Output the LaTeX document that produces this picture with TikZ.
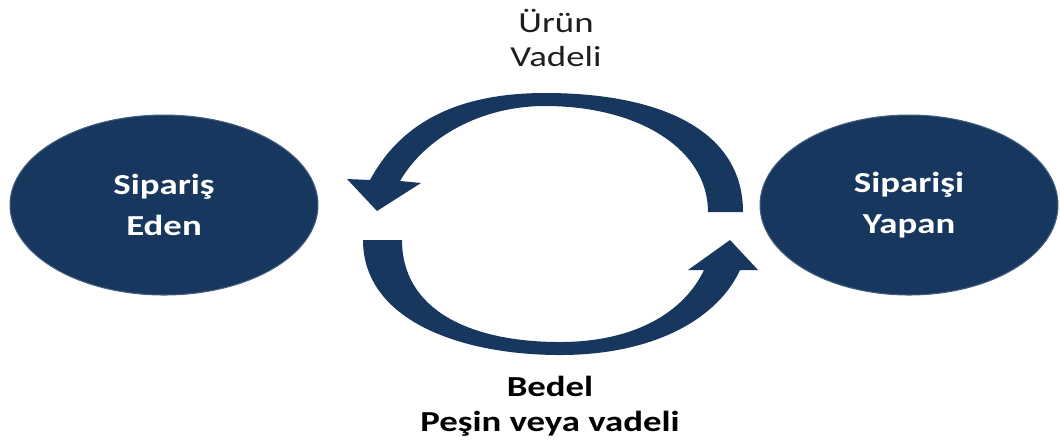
\documentclass[tikz,border=0pt]{standalone}
\usepackage{fontspec}
\setmainfont[FakeStretch=1.27]{Carlito}
\usepackage{xcolor}
\usetikzlibrary{positioning, shapes.geometric}

\definecolor{navy}{HTML}{17375E}
\definecolor{labelgray}{HTML}{1E1E1E}

\begin{document}
\begin{tikzpicture}[x=0.02cm, y=-0.02cm,
    party/.style={ellipse, fill=navy, draw=navy!80!white, line width=0.6pt, inner sep=0pt,
      text=white, align=center, font=\fontsize{16.5}{23.5}\selectfont\bfseries},
    flowlabel/.style={align=center, font=\fontsize{16.5}{19.5}\selectfont}]
  \useasboundingbox (0,0) rectangle (1060,441);

  % Parties
  \node[party, minimum width=6.16cm, minimum height=3.6cm] (eden) at (164,205) {Sipariş\\Eden};
  \node[party, minimum width=5.96cm, minimum height=3.6cm] (yapan) at (909,205) {Siparişi\\Yapan};

  % Upper arrow: goods, from right to left
  \fill[navy] (743,212) .. controls (743,130) and (660,93) .. (545,93)
    .. controls (450,93) and (398,128) .. (370,180)
    -- (347,179) -- (377,211) -- (421,183) -- (400,181)
    .. controls (425,138) and (480,106) .. (545,106)
    .. controls (640,106) and (708,150) .. (708,212) -- cycle;

  % Lower arrow: payment, from left to right
  \fill[navy] (363,240) .. controls (363,320) and (460,355) .. (560,355)
    .. controls (655,355) and (718,318) .. (740,270)
    -- (758,270) -- (730,240) -- (688,270) -- (704,270)
    .. controls (684,312) and (635,342) .. (560,342)
    .. controls (470,342) and (402,310) .. (402,240) -- cycle;

  \node[flowlabel, text=labelgray] (urun) at (556,38) {Ürün\\Vadeli};
  \node[flowlabel, text=black, font=\fontsize{16.5}{19.8}\selectfont\bfseries] (bedel) at (550,406) {Bedel\\Peşin veya vadeli};
\end{tikzpicture}
\end{document}
